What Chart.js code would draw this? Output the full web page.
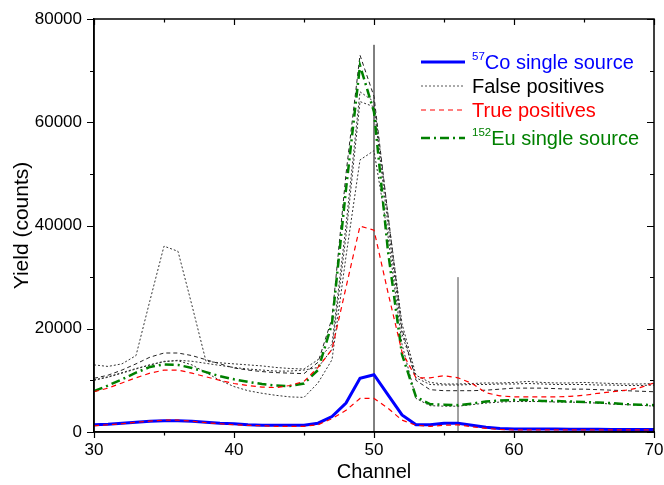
<!DOCTYPE html>
<html lang="en">
<head>
    <meta charset="UTF-8">
    <title>Yield vs Channel</title>
    <script src="https://cdn.jsdelivr.net/npm/chart.js"></script>
    <style>
        body { margin: 0; background-color: #fff; }
    </style>
</head>
<body>
    <canvas id="yieldChart" width="664" height="485"></canvas>

    <script>
        // channel numbers (x)
        const channels = [30, 31, 32, 33, 34, 35, 36, 37, 38, 39,
                          40, 41, 42, 43, 44, 45, 46, 47, 48, 49,
                          50, 51, 52, 53, 54, 55, 56, 57, 58, 59,
                          60, 61, 62, 63, 64, 65, 66, 67, 68, 69, 70];

        // 57Co single source
        const co57 = [1400, 1500, 1700, 1900, 2100, 2200, 2200, 2100, 1900, 1700,
                      1600, 1400, 1300, 1300, 1300, 1300, 1700, 3000, 5600, 10400,
                      11100, 7200, 3300, 1400, 1400, 1700, 1700, 1300, 900, 700,
                      600, 600, 600, 600, 550, 550, 550, 500, 500, 500, 500];

        // 152Eu single source
        const eu152 = [7900, 9000, 10200, 11500, 12600, 13100, 13000, 12400, 11600, 10800,
                       10200, 9700, 9300, 9000, 8900, 9400, 12000, 21000, 47000, 71000,
                       62000, 35000, 15000, 6800, 5400, 5300, 5200, 5500, 5900, 6100,
                       6200, 6200, 6000, 6000, 5900, 5800, 5700, 5600, 5400, 5300, 5200];

        // true positives
        const trueLow = [1200, 1400, 1600, 1900, 2100, 2300, 2300, 2100, 1800, 1600,
                         1400, 1300, 1200, 1100, 1100, 1100, 1400, 2600, 4200, 6500,
                         6500, 4600, 2300, 1300, 1100, 1300, 1400, 1000, 700, 500,
                         400, 400, 400, 400, 400, 400, 400, 400, 400, 400, 400];
        const trueHigh = [7800, 8500, 9500, 10500, 11400, 12000, 12000, 11400, 10700, 10000,
                          9400, 9000, 8700, 8600, 9000, 9800, 12500, 16000, 28000, 39900,
                          39100, 27000, 15500, 10500, 10500, 10900, 10500, 9400, 7600, 7000,
                          6800, 6800, 6800, 6800, 6900, 7100, 7500, 7800, 8100, 8600, 9500];

        // false positives
        const falseBump = [13000, 12700, 13200, 14800, 25500, 36000, 35000, 24500, 13700, 13400,
                           13200, 13000, 12800, 12500, 12300, 12200, 14000, 17000, 40000, 65900,
                           64000, 42000, 21000, 11000, 9600, 9300, 9300, 9400, 9500, 9500,
                           9600, 9800, 9600, 9500, 9500, 9600, 9500, 9400, 9300, 9300, 9400];
        const falseDashed = [10400, 11000, 12000, 13200, 14500, 15300, 15300, 14800, 14000, 13200,
                             12400, 12000, 11700, 11500, 11400, 11300, 13500, 22000, 50000, 73000,
                             65000, 42000, 20000, 10000, 8200, 8000, 8000, 8000, 8100, 8300,
                             8500, 8500, 8500, 8400, 8300, 8300, 8200, 8100, 8000, 7900, 7800];
        const falseMid = [10100, 10700, 11500, 12300, 13000, 13600, 13900, 13700, 13300, 12900,
                          12500, 12200, 12000, 11800, 11800, 12000, 12500, 16000, 38000, 64000,
                          63000, 40000, 19000, 10500, 9200, 9100, 9100, 9200, 9200, 9300,
                          9300, 9400, 9300, 9200, 9200, 9200, 9100, 9100, 9000, 9000, 9100];
        const falseLow = [10000, 10600, 11400, 12200, 13000, 13700, 13800, 13000, 11500, 10000,
                          8800, 8000, 7500, 7100, 6800, 6700, 9500, 14000, 34000, 52700,
                          54500, 38000, 17000, 6500, 5100, 5000, 5000, 5300, 5600, 5800,
                          5900, 5900, 5900, 5800, 5800, 5700, 5600, 5400, 5300, 5200, 5000];

        // marker lines: [channel, top value]
        const markerLines = [[50, 75000], [56, 30000]];

        const xTicks = [30, 35, 40, 45, 50, 55, 60, 65, 70];
        const yTicks = [0, 10000, 20000, 30000, 40000, 50000, 60000, 70000, 80000];

        const FONT = "'Liberation Sans', Arial, sans-serif";

        function pts(values) {
            return values.map((v, i) => ({ x: channels[i], y: v }));
        }

        function series(values, color, width, dash, order) {
            return {
                data: pts(values),
                borderColor: color,
                borderWidth: width,
                borderDash: dash,
                pointRadius: 0,
                tension: 0,
                fill: false,
                order: order
            };
        }

        const datasets = [
            series(trueLow, '#ff0000', 1.2, [5, 4], 0),
            series(trueHigh, '#ff0000', 1.2, [5, 4], 0),
            series(eu152, '#008000', 2.5, [9, 4, 2, 4], 1),
            series(co57, '#0000ff', 3, [], 2),
            series(falseBump, '#333333', 1, [2, 2], 3),
            series(falseDashed, '#222222', 1, [4, 3], 3),
            series(falseMid, '#333333', 1, [2, 2], 3),
            series(falseLow, '#333333', 1, [2, 2], 3)
        ];
        markerLines.forEach(m => {
            datasets.push({
                data: [{ x: m[0], y: 0 }, { x: m[0], y: m[1] }],
                borderColor: m[0] === 50 ? '#000' : '#444',
                borderWidth: 1,
                pointRadius: 0,
                order: 4
            });
        });

        const legendItems = [
            { sup: '57', text: 'Co single source', color: '#0000ff', width: 3, dash: [] },
            { sup: '', text: 'False positives', color: '#000000', lineColor: '#555555', width: 1, dash: [2, 2] },
            { sup: '', text: 'True positives', color: '#ff0000', width: 1.2, dash: [5, 4] },
            { sup: '152', text: 'Eu single source', color: '#008000', width: 2.5, dash: [9, 4, 2, 4] }
        ];

        // box frame with major/minor ticks
        const frameTicks = {
            id: 'frameTicks',
            afterDraw(chart) {
                const { ctx, chartArea: a, scales: { x, y } } = chart;
                ctx.save();
                ctx.strokeStyle = '#000';
                ctx.lineWidth = 1.5;
                ctx.setLineDash([]);
                ctx.strokeRect(a.left, a.top, a.right - a.left, a.bottom - a.top);
                ctx.lineWidth = 1.2;
                ctx.beginPath();
                xTicks.forEach(v => {
                    const px = Math.round(x.getPixelForValue(v)) + 0.5;
                    const len = v % 10 === 0 ? 6 : 3.5;
                    ctx.moveTo(px, a.bottom); ctx.lineTo(px, a.bottom + len);
                    ctx.moveTo(px, a.top); ctx.lineTo(px, a.top + len);
                });
                yTicks.forEach(v => {
                    const py = Math.round(y.getPixelForValue(v)) + 0.5;
                    const len = v % 20000 === 0 ? 7 : 4;
                    ctx.moveTo(a.left, py); ctx.lineTo(a.left - len, py);
                    ctx.moveTo(a.right, py); ctx.lineTo(a.right - len, py);
                });
                ctx.stroke();
                ctx.restore();
            }
        };

        // legend with superscript isotope numbers
        const isotopeLegend = {
            id: 'isotopeLegend',
            afterDraw(chart) {
                const ctx = chart.ctx;
                const rows = [62, 86, 110, 138];
                ctx.save();
                legendItems.forEach((item, i) => {
                    const yc = rows[i];
                    ctx.beginPath();
                    ctx.strokeStyle = item.lineColor || item.color;
                    ctx.lineWidth = item.width;
                    ctx.setLineDash(item.dash);
                    ctx.moveTo(421, yc);
                    ctx.lineTo(465, yc);
                    ctx.stroke();
                    ctx.setLineDash([]);
                    ctx.fillStyle = item.color;
                    ctx.textBaseline = 'alphabetic';
                    ctx.textAlign = 'left';
                    let tx = 472;
                    if (item.sup) {
                        ctx.font = '11.5px ' + FONT;
                        ctx.fillText(item.sup, tx, yc - 2);
                        tx += ctx.measureText(item.sup).width;
                    }
                    ctx.font = '20px ' + FONT;
                    ctx.fillText(item.text, tx, yc + 7);
                });
                ctx.restore();
            }
        };

        new Chart(document.getElementById('yieldChart'), {
            type: 'line',
            data: { datasets: datasets },
            options: {
                responsive: false,
                animation: false,
                devicePixelRatio: 1,
                layout: { padding: { top: 19, right: 10, left: 0, bottom: 0 } },
                plugins: {
                    legend: { display: false },
                    tooltip: { enabled: false }
                },
                scales: {
                    x: {
                        type: 'linear',
                        min: 30,
                        max: 70,
                        grid: { display: false, drawTicks: false },
                        border: { display: true, color: '#000', width: 1.5 },
                        ticks: {
                            stepSize: 10,
                            color: '#000',
                            padding: 8,
                            maxRotation: 0,
                            font: { family: FONT, size: 17 },
                            callback: v => String(v)
                        },
                        title: {
                            display: true,
                            text: 'Channel',
                            color: '#000',
                            font: { family: FONT, size: 20 },
                            padding: { top: 0, bottom: 1 }
                        },
                        afterFit: s => {
                            s.height = 53;
                            s.paddingLeft = 0;
                            s.paddingRight = 0;
                        }
                    },
                    y: {
                        min: 0,
                        max: 80000,
                        grid: { display: false, drawTicks: false },
                        border: { display: true, color: '#000', width: 1.5 },
                        ticks: {
                            stepSize: 20000,
                            color: '#000',
                            padding: 12,
                            font: { family: FONT, size: 17 },
                            callback: v => String(v)
                        },
                        title: {
                            display: true,
                            text: 'Yield (counts)',
                            color: '#000',
                            font: { family: FONT, size: 21 },
                            padding: { top: 10, bottom: 0 }
                        },
                        afterFit: s => {
                            s.width = 94;
                            s.paddingTop = 0;
                            s.paddingBottom = 0;
                        }
                    }
                }
            },
            plugins: [frameTicks, isotopeLegend]
        });
    </script>
</body>
</html>
